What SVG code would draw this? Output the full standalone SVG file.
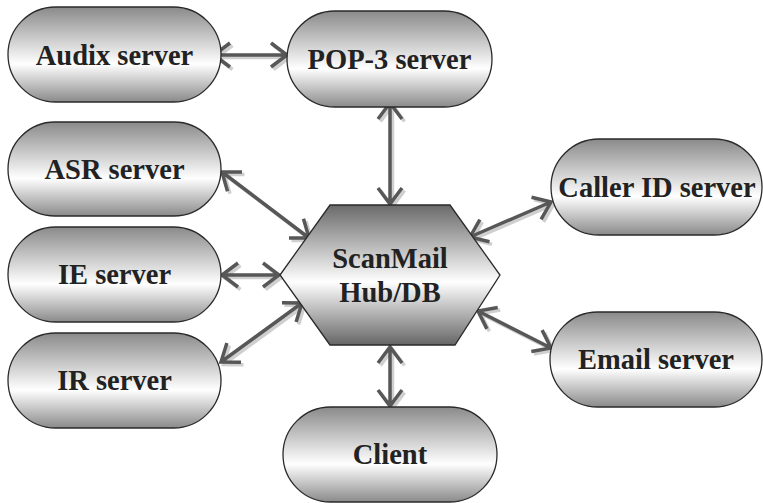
<svg xmlns="http://www.w3.org/2000/svg" width="763" height="503" viewBox="0 0 763 503">
<defs>
<linearGradient id="pillGrad" x1="0" y1="0" x2="0" y2="1">
<stop offset="0" stop-color="#8a8a8a"/>
<stop offset="0.6" stop-color="#ffffff"/>
<stop offset="1" stop-color="#8a8a8a"/>
</linearGradient>
<linearGradient id="hexGrad" x1="0" y1="0" x2="0" y2="1">
<stop offset="0" stop-color="#6a6a6a"/>
<stop offset="0.55" stop-color="#ffffff"/>
<stop offset="1" stop-color="#666666"/>
</linearGradient>
</defs>
<style>
.pill{fill:url(#pillGrad);stroke:#2a2a2a;stroke-width:1.3}
.hex{fill:url(#hexGrad);stroke:#2a2a2a;stroke-width:1.3}
.lbl{font-weight:bold;font-size:28.5px;fill:#222;text-anchor:middle}
.c{fill:none;stroke:#575757;stroke-width:3.5;stroke-linejoin:miter}
.s{fill:none;stroke:#cfcfcf;stroke-width:3.5;stroke-linejoin:miter}
</style>
<rect width="763" height="503" fill="#ffffff"/>
<g id="connectors-shadow" class="s" transform="translate(2.5,2.5)">
<path d="M230,43 L214,55 L230,67 M214,55 L287,55 M271,43 L287,55 L271,67"/>
<path d="M378,119 L390,103 L402,119 M390,103 L390,204 M378,188 L390,204 L402,188"/>
<path d="M227.5,191.2 L222,172 L242,172.1 M222,172 L309,238 M289,237.9 L309,238 L303.5,218.8"/>
<path d="M238,263 L222,275 L238,287 M222,275 L279,275 M263,263 L279,275 L263,287"/>
<path d="M241,362.3 L221,362 L226.9,342.9 M221,362 L302,303 M296.1,322.1 L302,303 L282,302.7"/>
<path d="M531.5,197.3 L551,202 L541.1,219.4 M551,202 L470,237 M479.9,219.6 L470,237 L489.5,241.7"/>
<path d="M486.9,328.9 L478,311 L497.7,307.5 M478,311 L551,348 M531.3,351.5 L551,348 L542.1,330.1"/>
<path d="M378,363 L390,347 L402,363 M390,347 L390,406 M378,390 L390,406 L402,390"/>
</g>
<g id="connectors" class="c">
<path d="M230,43 L214,55 L230,67 M214,55 L287,55 M271,43 L287,55 L271,67"/>
<path d="M378,119 L390,103 L402,119 M390,103 L390,204 M378,188 L390,204 L402,188"/>
<path d="M227.5,191.2 L222,172 L242,172.1 M222,172 L309,238 M289,237.9 L309,238 L303.5,218.8"/>
<path d="M238,263 L222,275 L238,287 M222,275 L279,275 M263,263 L279,275 L263,287"/>
<path d="M241,362.3 L221,362 L226.9,342.9 M221,362 L302,303 M296.1,322.1 L302,303 L282,302.7"/>
<path d="M531.5,197.3 L551,202 L541.1,219.4 M551,202 L470,237 M479.9,219.6 L470,237 L489.5,241.7"/>
<path d="M486.9,328.9 L478,311 L497.7,307.5 M478,311 L551,348 M531.3,351.5 L551,348 L542.1,330.1"/>
<path d="M378,363 L390,347 L402,363 M390,347 L390,406 M378,390 L390,406 L402,390"/>
</g>
<g font-family="'Liberation Serif', 'DejaVu Serif', serif">
<g id="audix">
<rect class="pill" x="8" y="7" width="213" height="95" rx="47.5"/>
<text class="lbl" x="114.5" y="65">Audix server</text>
</g>
<g id="pop3">
<rect class="pill" x="287" y="11" width="205" height="96" rx="48"/>
<text class="lbl" x="389.5" y="69">POP-3 server</text>
</g>
<g id="asr">
<rect class="pill" x="8" y="122" width="213" height="94" rx="47"/>
<text class="lbl" x="114.5" y="179">ASR server</text>
</g>
<g id="ie">
<rect class="pill" x="8" y="227" width="213" height="95" rx="47.5"/>
<text class="lbl" x="114.5" y="284">IE server</text>
</g>
<g id="ir">
<rect class="pill" x="8" y="333" width="213" height="95" rx="47.5"/>
<text class="lbl" x="114.5" y="390">IR server</text>
</g>
<g id="callerid">
<rect class="pill" x="551" y="139" width="211" height="96" rx="48"/>
<text class="lbl" x="657" y="197">Caller ID server</text>
</g>
<g id="email">
<rect class="pill" x="550" y="312" width="212" height="95" rx="47.5"/>
<text class="lbl" x="656" y="369">Email server</text>
</g>
<g id="client">
<rect class="pill" x="283" y="407" width="214" height="95" rx="47.5"/>
<text class="lbl" x="390" y="464">Client</text>
</g>
<g id="hub">
<polygon class="hex" points="280,275 330,205 450,205 500,275 455,345 330,345"/>
<text class="lbl" x="390" y="268">ScanMail</text>
<text class="lbl" x="390" y="302">Hub/DB</text>
</g>
</g>
</svg>
